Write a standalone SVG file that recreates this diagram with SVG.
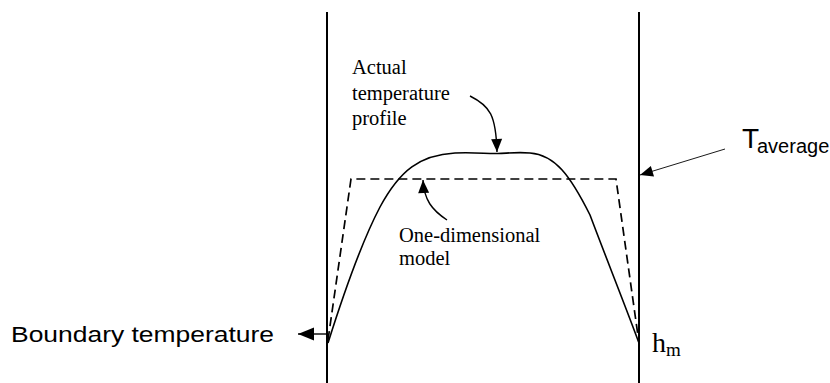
<svg xmlns="http://www.w3.org/2000/svg" width="830" height="383" viewBox="0 0 830 383">
<style>
.wall{stroke:#000;stroke-width:2;fill:none}
.solid{stroke:#000;stroke-width:1.6;fill:none}
.dash{stroke:#000;stroke-width:1.7;fill:none;stroke-dasharray:9 5}
.lead{stroke:#000;stroke-width:1.4;fill:none;marker-end:url(#ah)}
.thin{stroke:#000;stroke-width:0.9;fill:none;marker-end:url(#ah)}
.big{stroke:#000;stroke-width:1.4;fill:none;marker-end:url(#ahb)}
.serif{font-family:"Liberation Serif","Times New Roman",serif;fill:#000}
.sans{font-family:"Liberation Sans",Arial,sans-serif;fill:#000}
</style>
<defs>
<marker id="ah" markerUnits="userSpaceOnUse" viewBox="0 0 13 11" markerWidth="13" markerHeight="11" refX="13" refY="5.5" orient="auto" overflow="visible">
<path d="M0,0 L13,5.5 L0,11 z" fill="#000"/>
</marker>
<marker id="ahb" markerUnits="userSpaceOnUse" viewBox="0 0 16 13" markerWidth="16" markerHeight="13" refX="16" refY="6.5" orient="auto" overflow="visible">
<path d="M0,0 L16,6.5 L0,13 z" fill="#000"/>
</marker>
</defs>
<rect width="830" height="383" fill="#fff"/>
<g id="walls">
<line class="wall" x1="327" y1="12" x2="327" y2="383"/>
<line class="wall" x1="639" y1="12" x2="639" y2="383"/>
</g>
<g id="actual-profile">
<path class="solid" d="M328,343 C340,305 360,245 380,207 C400,170 420,155 455,153 C475,152 488,154 498,153.5 C510,153 518,152 530,153 C555,155 570,175 590,215 C605,255 625,305 639,343"/>
</g>
<g id="one-dim-model">
<path class="dash" d="M328,340 L351,179 L616,179 L639,343"/>
</g>
<g id="connectors">
<path class="lead" d="M470,96 C490,106 496,115 497,152"/>
<path class="lead" d="M447,220 C432,210 424,200 423,180"/>
<path class="thin" d="M725,149 L640,175"/>
<path class="big" d="M328,334 L298,334"/>
</g>
<g id="label-actual">
<text class="serif" font-size="20.5" x="352" y="74">Actual</text>
<text class="serif" font-size="20.5" x="352" y="99.5">temperature</text>
<text class="serif" font-size="20.5" x="352" y="124.5">profile</text>
</g>
<g id="label-onedim">
<text class="serif" font-size="20.5" x="399" y="242">One-dimensional</text>
<text class="serif" font-size="20.5" x="399" y="265">model</text>
</g>
<g id="label-taverage">
<text class="sans" font-size="28" x="742" y="148">T</text>
<text class="sans" font-size="20" x="757" y="153">average</text>
</g>
<g id="label-boundary">
<text class="sans" font-size="22" x="11" y="342" textLength="263" lengthAdjust="spacingAndGlyphs">Boundary temperature</text>
</g>
<g id="label-hm">
<text class="serif" font-size="28" x="652" y="352">h</text>
<text class="serif" font-size="19" x="666" y="356">m</text>
</g>
</svg>
